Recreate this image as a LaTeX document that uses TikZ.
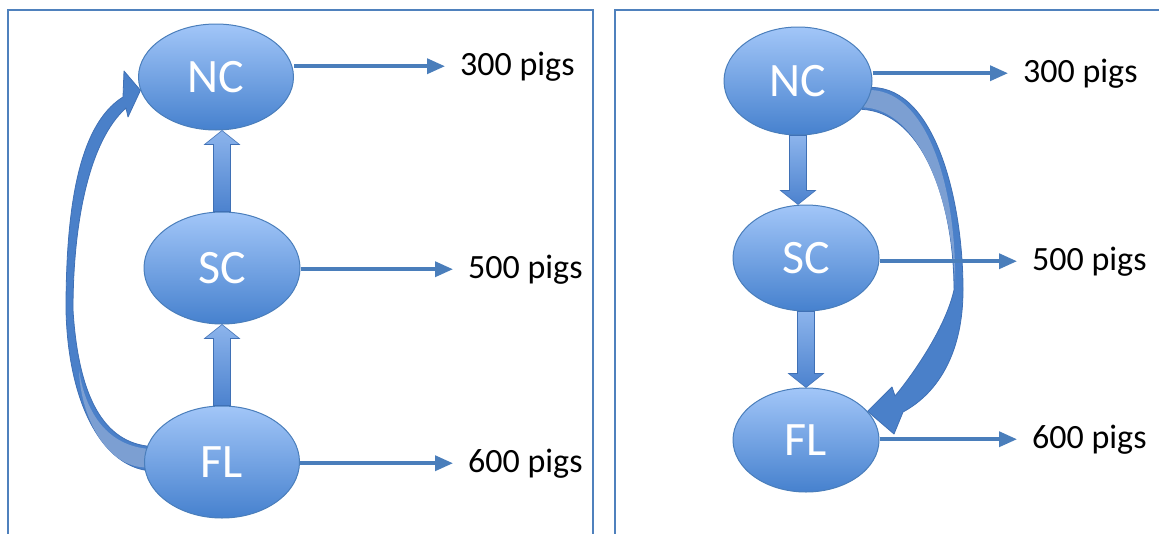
\documentclass[tikz,border=0pt]{standalone}
\usepackage{fontspec}
\setmainfont{Carlito}
\usepackage{tikz}
\usetikzlibrary{shapes.geometric, arrows.meta, calc}
\usepackage{xcolor}
\definecolor{frameblue}{HTML}{4F81BD}
\definecolor{lineblue}{HTML}{4A7EBB}
\definecolor{topblue}{HTML}{A2C6F8}
\definecolor{botblue}{HTML}{4681CE}
\definecolor{shaftblue}{HTML}{4A80C9}
\definecolor{edgeblue}{HTML}{3F70B5}
\definecolor{twistblue}{HTML}{7C9FD2}
\definecolor{blocktop}{HTML}{8CB4EC}
\definecolor{blockbot}{HTML}{4C82CE}
\pgfdeclarelayer{back}
\pgfsetlayers{back,main}
% block arrow from #1 to #2
\newcommand{\blockarrow}[2]{%
    \coordinate (bh) at ($(#2)!14pt!(#1)$);
    \shade[block] ($(#1)!8.5pt!90:(#2)$) -- ($(bh)!8.5pt!90:(#2)$) -- ($(bh)!17.5pt!90:(#2)$)
        -- (#2) -- ($(bh)!17.5pt!-90:(#2)$) -- ($(bh)!8.5pt!-90:(#2)$)
        -- ($(#1)!8.5pt!-90:(#2)$) -- cycle;}

\begin{document}
\begin{tikzpicture}[x=1pt, y=-1pt,
    place/.style={ellipse, draw=lineblue, line width=1pt, top color=topblue, bottom color=botblue,
        text=white, inner sep=0pt, font=\fontsize{48}{50}\selectfont},
    amount/.style={anchor=base west, inner sep=0pt, font=\fontsize{34}{36}\selectfont},
    flow/.style={lineblue, line width=3.5pt, -{Triangle[width=15pt,length=18pt]}, shorten >=15pt},
    block/.style={top color=blocktop, bottom color=blockbot, draw=edgeblue, line width=0.6pt},
    ribbon/.style={fill=shaftblue, draw=edgeblue, line width=0.8pt, line join=round},
    twist/.style={fill=twistblue},
    panel/.style={draw=frameblue, line width=1.5pt}]
    \useasboundingbox (0,0) rectangle (1159,533);

    % pigs moved up
    \draw[panel] (8,10) rectangle (593,560);
    \node[place, minimum width=155pt, minimum height=106pt] (lnc) at (216,77) {NC};
    \node[place, minimum width=156pt, minimum height=112pt] (lsc) at (222,268) {SC};
    \node[place, minimum width=155pt, minimum height=112pt] (lfl) at (222,462) {FL};
    \node[amount] (lq300) at (460,75) {300 pigs};
    \node[amount] (lq500) at (468,278) {500 pigs};
    \node[amount] (lq600) at (468,472) {600 pigs};
    \begin{pgfonlayer}{back}
        \filldraw[ribbon] (lfl.168) .. controls (100,440) and (78,390) .. (73,310)
            .. controls (73,220) and (90,140) .. (126,108)
            -- (128,117) -- (lnc.190) -- (124,71) -- (123,97)
            .. controls (78,125) and (66,210) .. (66,310)
            .. controls (68,400) and (100,462) .. (lfl.186) -- cycle;
        \fill[twist] (lfl.170) .. controls (105,444) and (85,410) .. (79,370)
            .. controls (80,410) and (102,465) .. (lfl.184) -- cycle;
    \end{pgfonlayer}
    \blockarrow{lsc.south |- lfl.north}{lsc.south}
    \blockarrow{lsc.north}{lsc.north |- lnc.south}
    \draw[flow] (lnc.east |- lq300.west) -- (lq300.west);
    \draw[flow] (lsc.east |- lq500.west) -- (lq500.west);
    \draw[flow] (lfl.east |- lq600.west) -- (lq600.west);

    % pigs moved down
    \draw[panel] (615,10) rectangle (1175,560);
    \node[place, minimum width=148pt, minimum height=108pt] (rnc) at (798,81) {NC};
    \node[place, minimum width=146pt, minimum height=106pt] (rsc) at (806,258) {SC};
    \node[place, minimum width=146pt, minimum height=104pt] (rfl) at (806,440) {FL};
    \node[amount] (rq300) at (1023,82) {300 pigs};
    \node[amount] (rq500) at (1032,270) {500 pigs};
    \node[amount] (rq600) at (1032,448) {600 pigs};
    \begin{pgfonlayer}{back}
        \filldraw[ribbon] (rnc.-5) .. controls (935,88) and (963,200) .. (963,290)
            .. controls (963,350) and (940,392) .. (903,412)
            -- (894,434) -- (rfl.25) -- (892,387) -- (895,396)
            .. controls (910,378) and (945,330) .. (954,290)
            .. controls (954,200) and (922,112) .. (rnc.-24) -- cycle;
        \fill[twist] (rnc.-7) .. controls (930,93) and (957,195) .. (955,285)
            .. controls (952,200) and (920,110) .. (rnc.-22) -- cycle;
    \end{pgfonlayer}
    \blockarrow{rnc.south}{rnc.south |- rsc.north}
    \blockarrow{rsc.south}{rsc.south |- rfl.north}
    \draw[flow] (rnc.east |- rq300.west) -- (rq300.west);
    \draw[flow] (rsc.east |- rq500.west) -- (rq500.west);
    \draw[flow] (rfl.east |- rq600.west) -- (rq600.west);
\end{tikzpicture}
\end{document}
